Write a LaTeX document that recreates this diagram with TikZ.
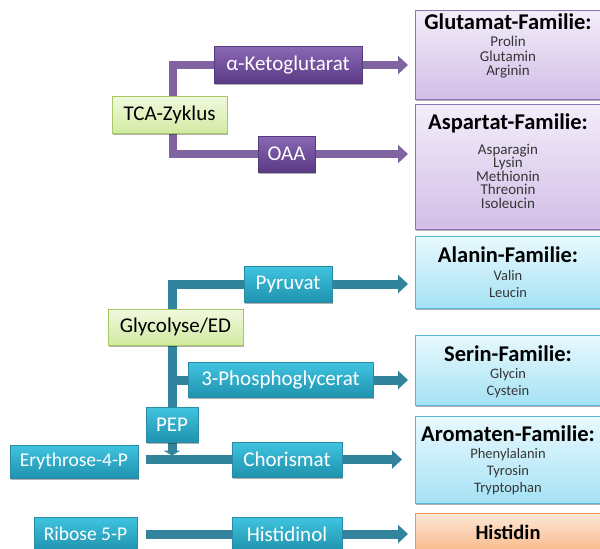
\documentclass[tikz,border=0pt]{standalone}
\usepackage{fontspec}
\setmainfont{Carlito}
\usetikzlibrary{arrows.meta,shadows}
\pgfdeclarelayer{bg}
\pgfsetlayers{bg,main}

% palette
\definecolor{PurpleTop}{HTML}{8A68B4}
\definecolor{PurpleBot}{HTML}{5B3A85}
\definecolor{PurpleEdge}{HTML}{553A7C}
\definecolor{PurpleLine}{HTML}{8064A2}
\definecolor{LavTop}{HTML}{F3EDFA}
\definecolor{LavBot}{HTML}{D2BEE7}
\definecolor{LavEdge}{HTML}{8E74B0}
\definecolor{TealTop}{HTML}{40C4E0}
\definecolor{TealBot}{HTML}{1F92AE}
\definecolor{TealEdge}{HTML}{2A8BA5}
\definecolor{TealLine}{HTML}{31849B}
\definecolor{CyanTop}{HTML}{E9F9FE}
\definecolor{CyanBot}{HTML}{A5E2F4}
\definecolor{CyanEdge}{HTML}{5BB8D2}
\definecolor{GreenTop}{HTML}{F1F9DE}
\definecolor{GreenBot}{HTML}{D2EAA2}
\definecolor{GreenEdge}{HTML}{A6C965}
\definecolor{OrangeTop}{HTML}{FDE8D7}
\definecolor{OrangeBot}{HTML}{F9BA8C}
\definecolor{OrangeEdge}{HTML}{F0965A}
\definecolor{ItemGray}{HTML}{363636}

\newcommand{\lblfont}{\fontsize{21}{25}\selectfont}
\newcommand{\smalllblfont}{\fontsize{19.5}{23}\selectfont}
\newcommand{\famtitlefont}{\fontsize{22.5}{26}\selectfont\bfseries}

\tikzset{
  x=1pt, y=-1pt,
  box/.style={rectangle, inner sep=0pt, outer sep=0pt, line width=0.6pt,
    drop shadow={shadow xshift=1.2pt, shadow yshift=-1.5pt, opacity=0.3, fill=black}},
  pbox/.style={box, draw=PurpleEdge, top color=PurpleTop, bottom color=PurpleBot,
    text=white, font=\lblfont},
  tbox/.style={box, draw=TealEdge, top color=TealTop, bottom color=TealBot,
    text=white, font=\lblfont},
  gbox/.style={box, draw=GreenEdge, top color=GreenTop, bottom color=GreenBot,
    text=black, font=\lblfont},
  famP/.style={box, draw=LavEdge, top color=LavTop, bottom color=LavBot,
    minimum width=186pt},
  famC/.style={box, draw=CyanEdge, top color=CyanTop, bottom color=CyanBot,
    minimum width=186pt},
  famO/.style={box, draw=OrangeEdge, top color=OrangeTop, bottom color=OrangeBot,
    minimum width=186pt, font=\fontsize{20.5}{24}\selectfont\bfseries},
  famtitle/.style={anchor=base, inner sep=0pt, font=\famtitlefont},
  % multi-line item lists are anchored at the baseline of their last line
  items/.style={anchor=base, inner sep=0pt, align=center, text=ItemGray},
  ptrunk/.style={draw=PurpleLine, line width=8pt, line join=miter},
  ttrunk/.style={draw=TealLine, line width=9pt, line join=miter},
  tip/.style={-{Triangle[length=10pt,width=18pt]}, shorten >=7pt}
}

\begin{document}
\begin{tikzpicture}
\useasboundingbox (0,0) rectangle (600,549);

% ---- amino acid families ----
\node[famP, minimum height=89pt] (glut) at (508,54.5) {};
\node[famtitle] (glutT) at (508,29) {Glutamat-Familie:};
\node[items, font=\fontsize{15}{14.5}\selectfont] (glutI) at (508,75.5) {Prolin\\Glutamin\\Arginin};

\node[famP, minimum height=125pt] (asp) at (508,166.5) {};
\node[famtitle] (aspT) at (508,129) {Aspartat-Familie:};
\node[items, font=\fontsize{15}{13.5}\selectfont] (aspI) at (508,208) {Asparagin\\Lysin\\Methionin\\Threonin\\Isoleucin};

\node[famC, minimum height=72pt] (alanin) at (508,272) {};
\node[famtitle] (alaninT) at (508,262) {Alanin-Familie:};
\node[items, font=\fontsize{14.5}{17}\selectfont] (alaninI) at (508,297) {Valin\\Leucin};

\node[famC, minimum height=70pt] (serin) at (508,370) {};
\node[famtitle] (serinT) at (508,361.5) {Serin-Familie:};
\node[items, font=\fontsize{14.5}{17}\selectfont] (serinI) at (508,395) {Glycin\\Cystein};

\node[famC, minimum height=87pt] (arom) at (508,459.5) {};
\node[famtitle] (aromT) at (508,441.5) {Aromaten-Familie:};
\node[items, font=\fontsize{14.5}{17}\selectfont] (aromI) at (508,492) {Phenylalanin\\Tyrosin\\Tryptophan};

\node[famO, minimum height=38pt] (histidin) at (508,532) {Histidin};

% ---- TCA branch ----
\node[gbox, minimum width=115pt, minimum height=37pt] (tca) at (169.5,114.5) {TCA-Zyklus};
\node[pbox, minimum width=148pt, minimum height=37pt] (keto) at (288,65) {α-Ketoglutarat};
\node[pbox, minimum width=57pt, minimum height=36pt] (oaa) at (286.5,154) {OAA};

% ---- glycolysis branch ----
\node[gbox, minimum width=135pt, minimum height=36pt] (glyc) at (175.5,327) {Glycolyse/ED};
\node[tbox, minimum width=88pt, minimum height=36pt] (pyruvat) at (288,284) {Pyruvat};
\node[tbox, minimum width=185pt, minimum height=35pt] (phospho) at (280.5,380) {3-Phosphoglycerat};
\node[tbox, minimum width=52pt, minimum height=35pt] (pep) at (172,424.5) {PEP};
\node[tbox, minimum width=128pt, minimum height=33pt, font=\smalllblfont] (eryth) at (74,461.5) {Erythrose-4-P};
\node[tbox, minimum width=110pt, minimum height=35pt] (choris) at (287,459.5) {Chorismat};
\node[tbox, minimum width=103pt, minimum height=34pt, font=\smalllblfont] (ribose) at (85.5,534) {Ribose 5-P};
\node[tbox, minimum width=110pt, minimum height=34pt] (histidinol) at (287,534) {Histidinol};

% ---- connectors behind the boxes ----
\begin{pgfonlayer}{bg}
  \draw[ptrunk] ([xshift=3pt]tca.north) |- (keto.west);
  \draw[ptrunk] ([xshift=3pt]tca.south) |- (oaa.west);
  \draw[ptrunk, tip] (keto.east) -- (keto.east -| glut.west);
  \draw[ptrunk, tip] (oaa.east) -- (oaa.east -| asp.west);

  \draw[ttrunk] (glyc.north -| pep.north) |- (pyruvat.west);
  \draw[ttrunk] (glyc.south -| pep.north) -- (pep.north);
  \draw[ttrunk] (glyc.south -| pep.north) |- (phospho.west);
  \draw[ttrunk, tip] (pyruvat.east) -- (pyruvat.east -| alanin.west);
  \draw[ttrunk, tip] (phospho.east) -- (phospho.east -| serin.west);

  \draw[ttrunk, shorten <=8pt] (eryth.east |- choris.west) -- (choris.west);
  \draw[ttrunk, -{Triangle[length=5pt,width=17pt]}, shorten >=4pt]
    (pep.south) -- (pep.south |- choris.west);
  \draw[ttrunk, tip, shorten >=13pt] (choris.east) -- (choris.east -| arom.west);

  \draw[ttrunk, shorten <=9pt] (ribose.east) -- (histidinol.west);
  \draw[ttrunk, tip] (histidinol.east) -- (histidinol.east -| histidin.west);
\end{pgfonlayer}
\end{tikzpicture}
\end{document}
